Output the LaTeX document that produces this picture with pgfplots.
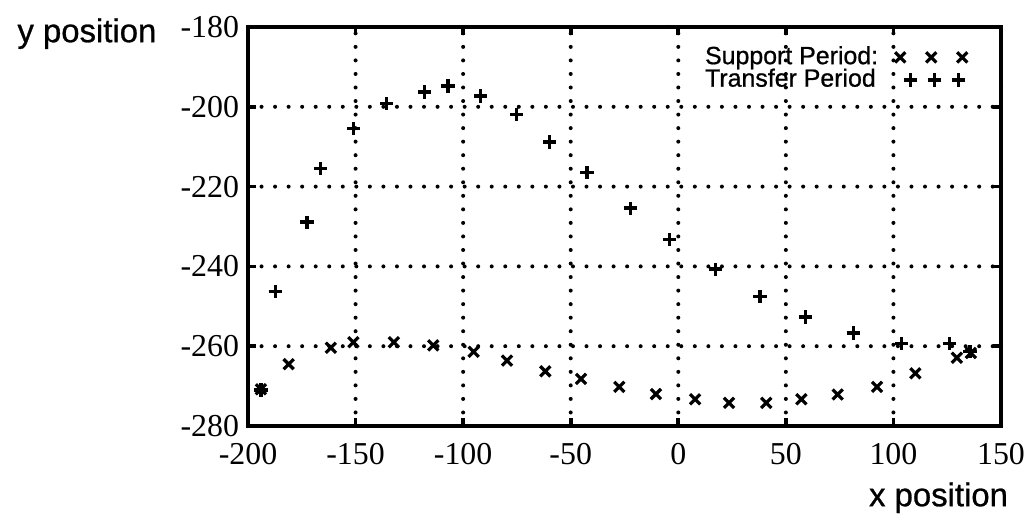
\documentclass[border=0pt]{standalone}
\usepackage{fontspec}
\setmainfont{Liberation Serif}
\newfontfamily\tickfont{Liberation Serif}
\newfontfamily\arial[FakeBold=0.8]{Liberation Sans}
\usepackage{pgfplots}
\pgfplotsset{compat=1.18}
\pgfplotsset{
  xleg/.style={legend image code/.code={\draw[##1,only marks] plot coordinates {(0bp,0bp) (15.5bp,0bp) (31bp,0bp)};}},
  pleg/.style={legend image code/.code={\draw[##1,only marks] plot coordinates {(5bp,0bp) (17bp,0bp) (29bp,0bp)};}},
}
\begin{document}
\begin{tikzpicture}
\path[use as bounding box] (0,0) rectangle (517.5bp,260bp);
\begin{axis}[
  at={(124bp,47bp)}, anchor=south west,
  scale only axis, width=376.5bp, height=199.5bp,
  xmin=-200, xmax=150, ymin=-280, ymax=-180,
  xtick={-200,-150,...,150}, ytick={-280,-260,...,-180},
  grid=major,
  major grid style={black, line width=2bp, dash pattern=on 0bp off 6.77bp, line cap=round},
  axis line style={line width=1.8bp},
  tick style={black, line width=1.8bp},
  major tick length=4bp,
  tick align=inside,
  ticklabel style={font=\tickfont\fontsize{16}{16}\selectfont},
  xticklabel style={yshift=-5bp},
  yticklabel style={xshift=-1bp},
  /pgf/number format/assume math mode=true,
  every axis y label/.style={at={(rel axis cs:-0.3155,0.962)}, anchor=base west, font=\arial\fontsize{16.5}{16.5}\selectfont},
  every axis x label/.style={at={(rel axis cs:1.0186,-0.201)}, anchor=base east, font=\arial\fontsize{16.5}{16.5}\selectfont},
  xlabel={x position}, ylabel={y position},
  legend plot pos=right,
  legend style={at={(rel axis cs:0.607,0.952)}, anchor=north west, draw=none, fill=none,
    inner sep=0pt, outer sep=0pt, column sep=8.5bp, row sep=0pt,
    font=\arial\fontsize{12.5}{12.5}\selectfont,
    nodes={inner sep=0pt, text height=9bp, text depth=2.25bp}},
  legend cell align=left,
]
\addplot[only marks, mark=x, mark size=3.6bp, line width=1.6bp, black, xleg]
 coordinates {
(-194,-270.8) (-181.1,-264.5) (-161.5,-260.4) (-151,-259) (-132.2,-259)
(-113.9,-259.8) (-95.1,-261.4) (-79.6,-263.6) (-61.8,-266.3) (-45.2,-268.2)
(-27.4,-270.2) (-10.4,-272) (7.8,-273.3) (23.6,-274.2) (40.9,-274.2)
(57.2,-273.3) (74.1,-272.1) (92.4,-270.2) (110.2,-266.8) (129.5,-262.9)
(136,-261.7)
};
\addlegendentry{Support Period:}
\addplot[only marks, mark=+, mark size=3.3bp, line width=1.7bp, black, pleg]
 coordinates {
(-194,-271) (-187.3,-246.3) (-172.6,-228.9) (-166.2,-215.4) (-151,-205.4)
(-135.6,-199.2) (-118.1,-196.3) (-107,-194.8) (-91.8,-197.3) (-75.3,-201.9)
(-59.9,-208.8) (-42.4,-216.5) (-22.3,-225.4) (-4,-233.3) (17.4,-240.7)
(38,-247.5) (59.2,-252.7) (81.3,-256.7) (103.7,-259.3) (126,-259.3)
(135.6,-261.3)
};
\addlegendentry{Transfer Period}
\end{axis}
\end{tikzpicture}
\end{document}
